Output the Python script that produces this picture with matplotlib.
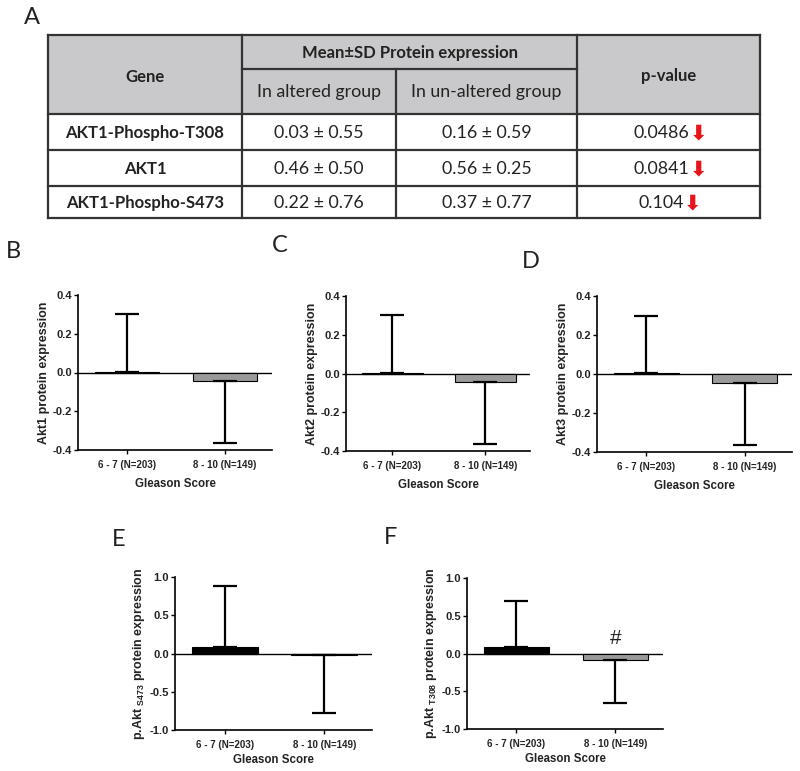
import matplotlib
matplotlib.use("Agg")
import matplotlib.pyplot as plt
from matplotlib.patches import Rectangle

# ---------------- data ----------------
genes = ["AKT1-Phospho-T308", "AKT1", "AKT1-Phospho-S473"]
altered_mean = ["0.03", "0.46", "0.22"]
altered_sd = ["0.55", "0.50", "0.76"]
unaltered_mean = ["0.16", "0.56", "0.37"]
unaltered_sd = ["0.59", "0.25", "0.77"]
p_values = ["0.0486", "0.0841", "0.104"]

categories = ["6 - 7 (N=203)", "8 - 10 (N=149)"]
akt1_mean = [0.005, -0.045]
akt1_err = [0.295, 0.32]
akt2_mean = [0.005, -0.045]
akt2_err = [0.295, 0.32]
akt3_mean = [0.005, -0.045]
akt3_err = [0.295, 0.32]
s473_mean = [0.08, -0.02]
s473_err = [0.80, 0.76]
t308_mean = [0.09, -0.09]
t308_err = [0.61, 0.56]

plt.rcParams['mathtext.fontset'] = 'custom'
plt.rcParams['mathtext.rm'] = 'Liberation Sans'
plt.rcParams['mathtext.it'] = 'Liberation Sans:italic'
plt.rcParams['mathtext.bf'] = 'Liberation Sans:bold'

W, H = 800, 771
fig = plt.figure(figsize=(W / 100, H / 100), dpi=100)

# ---------------- table (pixel coords) ----------------
ax0 = fig.add_axes([0, 0, 1, 1])
ax0.set_xlim(0, W)
ax0.set_ylim(H, 0)
ax0.axis("off")

tfont = "Lato"
lc = "#333333"
lw = 1.6
x0, x1, x2, x3, x4 = 48, 242, 396, 577, 760
y0, ysub, yh = 35, 69, 114
rows_y = [114, 150, 186, 218]

ax0.add_patch(Rectangle((x0, y0), x4 - x0, yh - y0, facecolor="#c9c9cb", edgecolor="none"))
for yy in [y0, yh] + rows_y[1:]:
    ax0.plot([x0, x4], [yy, yy], color=lc, lw=lw, solid_capstyle="projecting")
ax0.plot([x1, x3], [ysub, ysub], color=lc, lw=lw)
for xx in [x0, x1, x3, x4]:
    ax0.plot([xx, xx], [y0, rows_y[-1]], color=lc, lw=lw, solid_capstyle="projecting")
ax0.plot([x2, x2], [ysub, rows_y[-1]], color=lc, lw=lw)

fs = 12
fsr = 12.8
tc = "#222222"
ax0.text((x0 + x1) / 2, (y0 + yh) / 2 + 2, "Gene", ha="center", va="center", fontsize=fs,
         fontweight="bold", family=tfont, color=tc)
ax0.text((x1 + x3) / 2, (y0 + ysub) / 2 + 1, "Mean±SD Protein expression", ha="center", va="center",
         fontsize=fs, fontweight="bold", family=tfont, color=tc)
ax0.text((x1 + x2) / 2, (ysub + yh) / 2 + 1, "In altered group", ha="center", va="center",
         fontsize=fsr, family=tfont, color=tc)
ax0.text((x2 + x3) / 2, (ysub + yh) / 2 + 1, "In un-altered group", ha="center", va="center",
         fontsize=fsr, family=tfont, color=tc)
ax0.text((x3 + x4) / 2, (y0 + yh) / 2 + 2, "p-value", ha="center", va="center", fontsize=fs,
         fontweight="bold", family=tfont, color=tc)

for i, g in enumerate(genes):
    yc = (rows_y[i] + rows_y[i + 1]) / 2 + 1
    ax0.text((x0 + x1) / 2, yc, g, ha="center", va="center", fontsize=fs, fontweight="bold",
             family=tfont, color=tc)
    ax0.text((x1 + x2) / 2, yc, f"{altered_mean[i]} ± {altered_sd[i]}", ha="center", va="center",
             fontsize=fsr, family=tfont, color=tc)
    ax0.text((x2 + x3) / 2, yc, f"{unaltered_mean[i]} ± {unaltered_sd[i]}", ha="center", va="center",
             fontsize=fsr, family=tfont, color=tc)
    t = ax0.text((x3 + x4) / 2 - 7, yc, p_values[i], ha="center", va="center",
                 fontsize=fsr, family=tfont, color=tc)
    ax0.annotate("⬇", xy=(1, 0.5), xycoords=t, xytext=(0, 0), textcoords="offset points",
                 ha="left", va="center", fontsize=15, fontweight="bold", color="#e8141b",
                 family="DejaVu Sans")

# panel labels
plabel_kw = dict(fontsize=17, family="Lato", color=tc, ha="left", va="center")
ax0.text(24, 18, "A", **plabel_kw)
ax0.text(6, 252, "B", **plabel_kw)
ax0.text(272, 246, "C", **plabel_kw)
ax0.text(522, 262, "D", **plabel_kw)
ax0.text(112, 540, "E", **plabel_kw)
ax0.text(384, 537, "F", **plabel_kw)


# ---------------- bar panels ----------------
def px_axes(left, right, top, bottom):
    return fig.add_axes([left / W, 1 - bottom / H, (right - left) / W, (bottom - top) / H])


def bar_panel(ax, means, errs, ylabel, ylim, yticks, colors, hash_mark=False, xlabelpad=6):
    x = list(range(len(categories)))
    lower = [[0 if m >= 0 else e for m, e in zip(means, errs)],
             [e if m >= 0 else 0 for m, e in zip(means, errs)]]
    ax.bar(x, means, width=0.66, color=colors, edgecolor="black", linewidth=0.8, zorder=2)
    ax.errorbar(x, means, yerr=lower, fmt="none", ecolor="black", elinewidth=1.6,
                capsize=8.5, capthick=1.6, zorder=3)
    ax.axhline(0, color="black", lw=1.0, zorder=1)
    ax.set_xlim(-0.5, 1.48)
    ax.set_ylim(*ylim)
    ax.set_yticks(yticks)
    ax.set_yticklabels([f"{v:.1f}" for v in yticks])
    ax.set_xticks(x)
    ax.set_xticklabels(categories)
    for s in ["top", "right"]:
        ax.spines[s].set_visible(False)
    for s in ["left", "bottom"]:
        ax.spines[s].set_linewidth(1.2)
    ax.tick_params(axis="y", length=3, width=1.0, pad=1.5)
    ax.tick_params(axis="x", length=3, width=1.0, pad=4)
    for lab in ax.get_yticklabels():
        lab.set_fontsize(8)
        lab.set_fontweight("bold")
        lab.set_family("Liberation Sans")
        lab.set_color(tc)
    for lab in ax.get_xticklabels():
        lab.set_fontsize(7)
        lab.set_fontweight("bold")
        lab.set_family("Liberation Sans")
        lab.set_color(tc)
    ax.set_xlabel("Gleason Score", fontsize=8.3, fontweight="bold", family="Liberation Sans",
                  color=tc, labelpad=xlabelpad)
    ax.set_ylabel(ylabel, fontsize=9, fontweight="bold", family="Liberation Sans",
                  color=tc, labelpad=2)
    if hash_mark:
        ax.text(x[1], 0.2, "#", ha="center", va="center", fontsize=15, family="Liberation Sans",
                color=tc)


gray = "#9a9a9a"
yt4 = [-0.4, -0.2, 0.0, 0.2, 0.4]
yt1 = [-1.0, -0.5, 0.0, 0.5, 1.0]

axB = px_axes(78, 272, 295, 450)
bar_panel(axB, akt1_mean, akt1_err, "Akt1 protein expression", (-0.4, 0.4), yt4, ["black", gray])
axC = px_axes(346, 530, 296, 451)
bar_panel(axC, akt2_mean, akt2_err, "Akt2 protein expression", (-0.4, 0.4), yt4, ["black", gray])
axD = px_axes(597, 792, 296, 452)
bar_panel(axD, akt3_mean, akt3_err, "Akt3 protein expression", (-0.4, 0.4), yt4, ["black", gray])
axE = px_axes(175, 372, 577, 730)
bar_panel(axE, s473_mean, s473_err, r"p.Akt $_{\mathregular{S473}}$ protein expression",
          (-1.0, 1.0), yt1, ["black", gray], xlabelpad=3)
axF = px_axes(467, 663, 578, 729)
bar_panel(axF, t308_mean, t308_err, r"p.Akt $_{\mathregular{T308}}$ protein expression",
          (-1.0, 1.0), yt1, ["black", gray], hash_mark=True, xlabelpad=3)

fig.savefig("out.png", dpi=100)
